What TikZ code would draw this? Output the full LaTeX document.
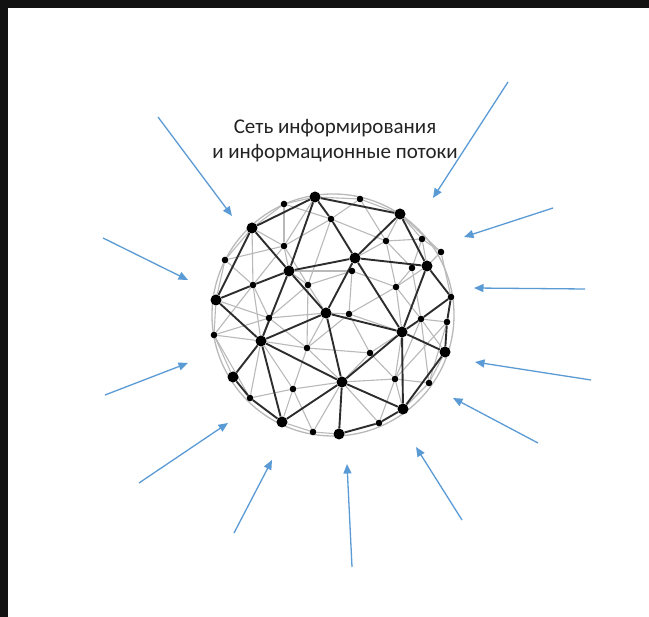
\documentclass[tikz,border=0pt]{standalone}
\usepackage{fontspec}
\setmainfont{Carlito}
\usetikzlibrary{arrows.meta}
\definecolor{arrowblue}{RGB}{91,155,213}
\definecolor{edgedark}{RGB}{45,45,45}
\definecolor{edgelight}{RGB}{185,185,185}
\definecolor{frameblack}{RGB}{18,18,18}
\definecolor{titlecol}{RGB}{35,35,35}
\pgfdeclarelayer{back}
\pgfdeclarelayer{bg}
\pgfsetlayers{back,bg,main}
\tikzset{
  bigdot/.style={circle,fill=black,inner sep=0pt,minimum size=11pt},
  smalldot/.style={circle,fill=black,inner sep=0pt,minimum size=6.6pt},
  darkedge/.style={draw=edgedark,line width=1.9pt},
  lightedge/.style={draw=edgelight,line width=1.1pt},
  flow/.style={draw=arrowblue,line width=1.3pt,-{Triangle[length=9.5pt,width=8pt]}},
  title/.style={font=\fontsize{21}{25}\selectfont,text=titlecol,align=center,inner sep=0pt}
}
\begin{document}
\begin{tikzpicture}[x=1pt,y=-1pt]
\useasboundingbox (0,0) rectangle (649,617);
\begin{pgfonlayer}{back}
\fill[white] (0,0) rectangle (649,617);
\fill[frameblack] (0,0) rectangle (649,8);
\fill[frameblack] (0,0) rectangle (8,617);
\end{pgfonlayer}

% title
\node[title] (title) at (335,141) {Сеть информирования\\и информационные потоки};

% big nodes
\foreach \n/\x/\y in {b1/315/197, b2/400/214, b3/252/228, b4/289/271, b5/355/258,
  b6/427/266, b7/216/300, b8/326/313, b9/402/332, b10/261/341, b11/445/352,
  b12/233/377, b13/342/382, b14/403/409, b15/282/422, b16/339/434}
  \node[bigdot] (\n) at (\x,\y) {};
% small nodes
\foreach \n/\x/\y in {s1/284/204, s2/360/199, s3/331/219, s4/284/246, s5/225/260,
  s6/386/241, s7/422/239, s8/441/252, s9/253/285, s10/308/285, s11/352/271,
  s12/412/268, s13/396/287, s14/451/297, s15/269/318, s16/214/335, s17/307/348,
  s18/349/314, s19/421/319, s20/447/322, s21/370/353, s22/293/389, s23/395/379,
  s24/429/383, s25/250/398, s26/313/432, s27/379/423}
  \node[smalldot] (\n) at (\x,\y) {};

\begin{pgfonlayer}{bg}
% sphere outline
\coordinate (ctr) at (333,315);
\draw[edgelight,line width=1.3pt] (ctr) circle (121);
% light mesh
\foreach \a/\b in {s1/b1, s1/b3, s1/s4, s1/s3, s2/b1, s2/b2, s2/s3, s2/s6, s3/s4, s3/s6,
  s4/b3, s4/b4, s4/s5, s5/b3, s5/b7, s5/s9, s4/s9, s4/s10, s3/s10, s6/b2, s6/b5, s6/s7, s6/s12,
  s6/s13, s7/b2, s7/s8, s7/b6, s7/s12, s8/b6, s8/s14, s8/b2, s9/s15, s9/s16, s9/b10,
  s10/b4, s10/s11, s10/b8, s10/s15, s11/s18, s11/s13, s11/b4, s12/s13, s13/b9, s13/s18,
  s13/s19, s13/b6, s14/s19, s15/b7, s15/b10, s15/s17, s15/b8, s16/b7, s16/b10, s16/b12,
  s17/b8, s17/b10, s17/s18, s17/s22, s17/s21, s17/b13, s18/b8, s18/b9, s18/s21, s19/b11,
  s19/s20, s19/s23, s19/s24, s20/s24, s21/b9, s21/b13, s21/s23, s22/b10, s22/b15, s22/b13,
  s22/s26, s22/s25, s23/b9, s23/b13, s23/s24, s23/b14, s23/s27, s24/b11, s24/b14,
  s25/s16, s25/b10, s26/b15, s26/b16, s26/b13, s27/b13, s12/s19, b1/s4, b3/s9, s15/s16,
  s10/s17, s20/s23}
  \draw[lightedge] (\a) -- (\b);
% dark mesh
\foreach \a/\b in {b3/b1, b1/b2, b3/b4, b3/b7, b1/b4, b1/s3, s3/b5, b2/b5, b2/b6, b5/b6,
  b4/b5, b5/b9, b5/b8, b6/b9, b6/s14, b7/s9, s9/b4, b4/b10, b4/b8, b8/b10, b7/b10,
  b10/b12, b10/b15, b10/b13, b12/s25, s25/b15, b15/b13, b8/b13, b8/b9, b9/b13, b9/b14,
  b9/b11, b9/s19, s19/s14, b11/s20, s20/s14, b11/b14, b13/b14, b13/b16, b16/s27, s27/b14}
  \draw[darkedge] (\a) -- (\b);
\end{pgfonlayer}

% information flows
\foreach \i/\sx/\sy/\ex/\ey in {1/158/117/232/216, 2/508/82/433/198, 3/553/208/464/237,
  4/585/289/474/288, 5/591/380/475/362, 6/538/443/453/398, 7/462/520/416/447,
  8/352/567/347/464, 9/234/533/272/460, 10/139/483/228/423, 11/105/395/188/363,
  12/103/238/188/280}
{
  \coordinate (fs\i) at (\sx,\sy);
  \coordinate (fe\i) at (\ex,\ey);
  \draw[flow] (fs\i) -- (fe\i);
}
\end{tikzpicture}
\end{document}
